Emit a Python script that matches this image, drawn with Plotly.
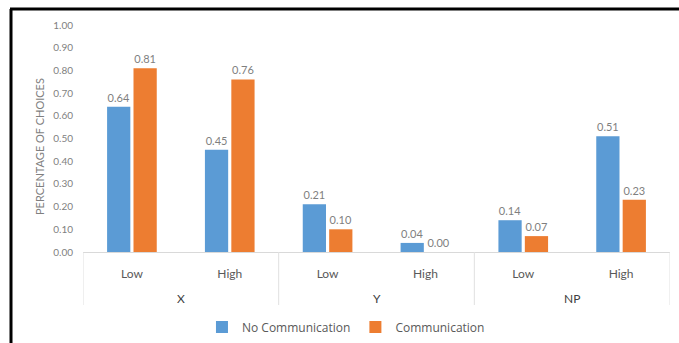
import plotly.graph_objects as go

groups = ["X", "X", "Y", "Y", "NP", "NP"]
levels = ["Low", "High", "Low", "High", "Low", "High"]
no_comm = [0.64, 0.45, 0.21, 0.04, 0.14, 0.51]
comm = [0.81, 0.76, 0.10, 0.00, 0.07, 0.23]
y_ticks = [0.0, 0.1, 0.2, 0.3, 0.4, 0.5, 0.6, 0.7, 0.8, 0.9, 1.0]
y_title = "PERCENTAGE OF CHOICES"

W, H = 679, 343
L, R, T, B = 83, 9, 25, 91
pw, ph = W - L - R, H - T - B

def px(x):
    return (x - L) / pw

def py(y):
    return (H - B - y) / ph

xpos = list(range(len(levels)))

fig = go.Figure()
fig.add_trace(go.Bar(
    x=xpos, y=no_comm, name="No Communication",
    marker=dict(color="#5B9BD5", line=dict(width=0)),
    text=[f"{v:.2f}" for v in no_comm], textposition="outside",
    textfont=dict(color="#7f7f7f", size=11), cliponaxis=False,
))
fig.add_trace(go.Bar(
    x=xpos, y=comm, name="Communication",
    marker=dict(color="#ED7D31", line=dict(width=0)),
    text=[f"{v:.2f}" for v in comm], textposition="outside",
    textfont=dict(color="#7f7f7f", size=11), cliponaxis=False,
))

# group dividers and labels derived from the group list
unique_groups = []
spans = {}
for i, g in enumerate(groups):
    if g not in spans:
        unique_groups.append(g)
        spans[g] = [i, i]
    spans[g][1] = i

shapes = []
annotations = []
bounds = sorted({spans[g][0] - 0.5 for g in unique_groups} | {spans[g][1] + 0.5 for g in unique_groups})
for b in bounds:
    shapes.append(dict(type="line", xref="x", yref="paper", x0=b, x1=b, y0=0, y1=py(305),
                       line=dict(color="#e0e0e0", width=1)))
for g in unique_groups:
    annotations.append(dict(x=(spans[g][0] + spans[g][1]) / 2, y=py(298), xref="x", yref="paper",
                            text=g, showarrow=False, yanchor="middle",
                            font=dict(size=12, color="#404040")))

annotations.append(dict(x=px(39), y=py(147), xref="paper", yref="paper", text=y_title,
                        textangle=-90, showarrow=False, xanchor="center", yanchor="middle",
                        font=dict(size=11, color="#7f7f7f")))

shapes += [
    dict(type="line", xref="paper", yref="paper", x0=px(10), x1=px(679), y0=py(9), y1=py(9),
         line=dict(color="black", width=3)),
    dict(type="line", xref="paper", yref="paper", x0=px(11), x1=px(11), y0=py(9), y1=py(343),
         line=dict(color="black", width=3)),
]

fig.update_layout(
    width=W, height=H,
    margin=dict(l=L, r=R, t=T, b=B, pad=0, autoexpand=False),
    paper_bgcolor="white", plot_bgcolor="white",
    font=dict(family="Lato, Open Sans, sans-serif", color="#595959"),
    barmode="group", bargap=0.46, bargroupgap=0.12,
    showlegend=True,
    legend=dict(orientation="h", x=0.448, xanchor="center", y=py(327), yanchor="middle",
                font=dict(size=12, color="#595959", family="Open Sans, sans-serif"),
                itemwidth=30, traceorder="normal"),
    xaxis=dict(
        range=[-0.5, len(levels) - 0.5], tickvals=xpos, ticktext=levels,
        showline=True, linecolor="#d9d9d9", linewidth=1, zeroline=False,
        tickfont=dict(size=12, color="#595959"), ticks="", showgrid=False,
        ticklabelstandoff=11, automargin=False,
    ),
    yaxis=dict(
        range=[0, 1.0], tickvals=y_ticks, tickformat=".2f",
        showgrid=False, zeroline=False, showline=False,
        tickfont=dict(size=10, color="#7f7f7f"), ticks="", ticklabelstandoff=9,
        automargin=False,
    ),
    shapes=shapes,
    annotations=annotations,
)

fig.write_html("out.html")
